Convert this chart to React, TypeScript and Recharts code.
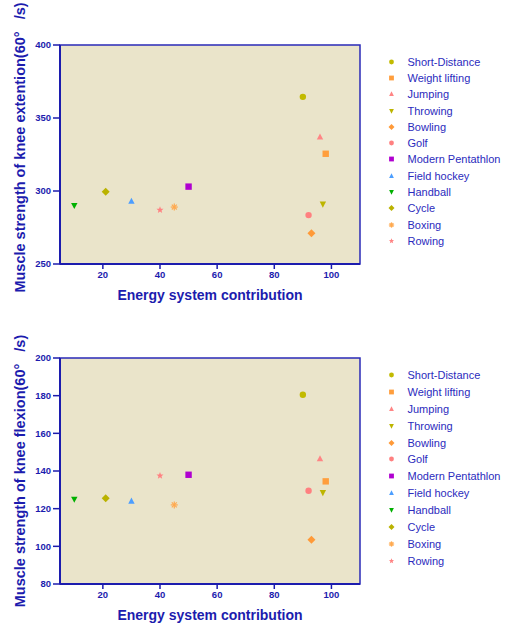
import React from "react";
import {
  ScatterChart,
  Scatter,
  XAxis,
  YAxis,
  CartesianGrid,
  ReferenceArea,
  Legend,
} from "recharts";

const SPORTS = [
  "Short-Distance",
  "Weight lifting",
  "Jumping",
  "Throwing",
  "Bowling",
  "Golf",
  "Modern Pentathlon",
  "Field hockey",
  "Handball",
  "Cycle",
  "Boxing",
  "Rowing",
];
const ENERGY = [90, 98, 96, 97, 93, 92, 50, 30, 10, 21, 45, 40];
const EXTENSION = [364.5, 325.5, 337, 291, 271, 283.5, 303, 293, 290, 299.5, 289, 287];
const FLEXION = [180.5, 134.5, 146.5, 128.5, 103.5, 129.5, 138, 124, 125, 125.5, 122, 137.5];

const X_TICKS = [20, 40, 60, 80, 100];
const EXT_TICKS = [250, 300, 350, 400];
const FLEX_TICKS = [80, 100, 120, 140, 160, 180, 200];

const MARKERS = [
  { kind: "circle", color: "#c2ba00" },
  { kind: "square", color: "#ff9e3d" },
  { kind: "triangle", color: "#ff8585" },
  { kind: "triangleDown", color: "#bdb500" },
  { kind: "diamond", color: "#ff9a38" },
  { kind: "circle", color: "#ff8080" },
  { kind: "square", color: "#b000d0" },
  { kind: "triangle", color: "#4c9eff" },
  { kind: "triangleDown", color: "#00b000" },
  { kind: "diamond", color: "#bab200" },
  { kind: "asterisk", color: "#ffa94f" },
  { kind: "star", color: "#ff8282" },
];

const BLUE = "#1c1cae";
const FONT = "Arial, 'Liberation Sans', sans-serif";
const PLOT_BG = "#eae4ca";

function Marker({ kind, cx, cy, fill, s }: any) {
  if (cx == null || cy == null) return null;
  switch (kind) {
    case "circle":
      return <circle cx={cx} cy={cy} r={s} fill={fill} />;
    case "square":
      return <rect x={cx - s} y={cy - s} width={2 * s} height={2 * s} fill={fill} />;
    case "triangle":
      return (
        <polygon
          points={`${cx},${cy - s * 1.1} ${cx + s},${cy + s * 0.8} ${cx - s},${cy + s * 0.8}`}
          fill={fill}
        />
      );
    case "triangleDown":
      return (
        <polygon
          points={`${cx - s},${cy - s * 0.8} ${cx + s},${cy - s * 0.8} ${cx},${cy + s * 1.1}`}
          fill={fill}
        />
      );
    case "diamond": {
      const d = s * 1.25;
      return (
        <polygon
          points={`${cx},${cy - d} ${cx + d},${cy} ${cx},${cy + d} ${cx - d},${cy}`}
          fill={fill}
        />
      );
    }
    case "asterisk": {
      const d = s * 1.1;
      const k = d * 0.707;
      return (
        <g stroke={fill} strokeWidth={1.2}>
          <line x1={cx - d} y1={cy} x2={cx + d} y2={cy} />
          <line x1={cx} y1={cy - d} x2={cx} y2={cy + d} />
          <line x1={cx - k} y1={cy - k} x2={cx + k} y2={cy + k} />
          <line x1={cx - k} y1={cy + k} x2={cx + k} y2={cy - k} />
        </g>
      );
    }
    case "star": {
      const pts: string[] = [];
      for (let i = 0; i < 10; i++) {
        const r = i % 2 === 0 ? s * 1.15 : s * 0.5;
        const a = -Math.PI / 2 + (i * Math.PI) / 5;
        pts.push(`${cx + r * Math.cos(a)},${cy + r * Math.sin(a)}`);
      }
      return <polygon points={pts.join(" ")} fill={fill} />;
    }
    default:
      return null;
  }
}

function YTitle({ viewBox, title, shift }: any) {
  const vb = viewBox || { x: 0, y: 0, width: 60, height: 200 };
  const cx = vb.x + 20;
  const cy = vb.y + vb.height / 2 + (shift || 0);
  return (
    <text
      x={cx}
      y={cy}
      transform={`rotate(-90 ${cx} ${cy})`}
      textAnchor="middle"
      dominantBaseline="central"
      fill={BLUE}
      fontFamily={FONT}
      fontWeight="bold"
      fontSize={14.5}
    >
      {title}
    </text>
  );
}

function XTitle({ viewBox, title, gap }: any) {
  const vb = viewBox || { x: 60, y: 0, width: 300, height: 40 };
  return (
    <text
      x={vb.x + vb.width / 2}
      y={vb.y + gap}
      textAnchor="middle"
      fill={BLUE}
      fontFamily={FONT}
      fontWeight="bold"
      fontSize={14}
    >
      {title}
    </text>
  );
}

// legend keeps the series order, not the alphabetical one
function LegendList({ payload, rowH }: any) {
  const names: string[] =
    payload && payload.length ? payload.map((p: any) => p.value) : SPORTS;
  const items = [...names].sort((a, b) => SPORTS.indexOf(a) - SPORTS.indexOf(b));
  return (
    <div style={{ fontFamily: FONT, fontSize: 11, color: "#2b2bbd" }}>
      {items.map((name: string) => {
        const m = MARKERS[SPORTS.indexOf(name)];
        return (
          <div
            key={name}
            style={{ display: "flex", alignItems: "center", height: rowH, whiteSpace: "nowrap" }}
          >
            <svg width={16} height={10} style={{ flex: "none" }}>
              <Marker kind={m.kind} cx={7.5} cy={5} fill={m.color} s={2.4} />
            </svg>
            <span style={{ marginLeft: 7.5 }}>{name}</span>
          </div>
        );
      })}
    </div>
  );
}

function Panel({ values, yTicks, yLabel, height, top, axisH, labelShift, legendTop, rowH }: any) {
  const yMin = yTicks[0];
  const yMax = yTicks[yTicks.length - 1];
  return (
    <ScatterChart
      width={505}
      height={height}
      margin={{ top, right: 145, bottom: 0, left: 0 }}
    >
      <CartesianGrid fill={PLOT_BG} stroke="none" horizontal={false} vertical={false} />
      <ReferenceArea
        x1={5}
        x2={110}
        y1={yMin}
        y2={yMax}
        fill="none"
        fillOpacity={0}
        stroke="#2a2ab8"
        strokeWidth={1.5}
        ifOverflow="visible"
      />
      <XAxis
        type="number"
        dataKey="x"
        domain={[5, 110]}
        ticks={X_TICKS}
        allowDataOverflow
        height={axisH}
        axisLine={{ stroke: BLUE, strokeWidth: 2 }}
        tickLine={{ stroke: BLUE, strokeWidth: 1.5 }}
        tickSize={5}
        tickMargin={2}
        tick={{ fill: BLUE, fontSize: 9.5, fontWeight: "bold", fontFamily: FONT }}
        label={<XTitle title="Energy system contribution" gap={35.5} />}
      />
      <YAxis
        type="number"
        dataKey="y"
        domain={[yMin, yMax]}
        ticks={yTicks}
        allowDataOverflow
        width={60}
        axisLine={{ stroke: BLUE, strokeWidth: 2 }}
        tickLine={{ stroke: BLUE, strokeWidth: 1.5 }}
        tickSize={7}
        tickMargin={2}
        tick={{ fill: BLUE, fontSize: 9.5, fontWeight: "bold", fontFamily: FONT }}
        label={<YTitle title={yLabel} shift={labelShift} />}
      />
      <Legend
        layout="vertical"
        align="center"
        verticalAlign="middle"
        wrapperStyle={{ left: 384, top: legendTop, width: 121 }}
        content={<LegendList rowH={rowH} />}
      />
      {SPORTS.map((name, i) => (
        <Scatter
          key={name}
          name={name}
          data={[{ x: ENERGY[i], y: values[i] }]}
          fill={MARKERS[i].color}
          isAnimationActive={false}
          shape={(p: any) => (
            <Marker kind={MARKERS[i].kind} cx={p.cx} cy={p.cy} fill={MARKERS[i].color} s={3.2} />
          )}
        />
      ))}
    </ScatterChart>
  );
}

export default function App() {
  return (
    <div style={{ position: "absolute", left: 0, top: 0, width: 505, height: 626, background: "#fff" }}>
      <Panel
        values={EXTENSION}
        yTicks={EXT_TICKS}
        yLabel={"Muscle strength of knee extention(60°\u00a0\u00a0\u00a0/s)"}
        height={310}
        top={45}
        axisH={46}
        labelShift={-7}
        legendTop={53.5}
        rowH={16.3}
      />
      <Panel
        values={FLEXION}
        yTicks={FLEX_TICKS}
        yLabel={"Muscle strength of knee flexion(60°\u00a0\u00a0\u00a0/s)"}
        height={316}
        top={48}
        axisH={42}
        labelShift={0}
        legendTop={56.5}
        rowH={16.9}
      />
    </div>
  );
}
